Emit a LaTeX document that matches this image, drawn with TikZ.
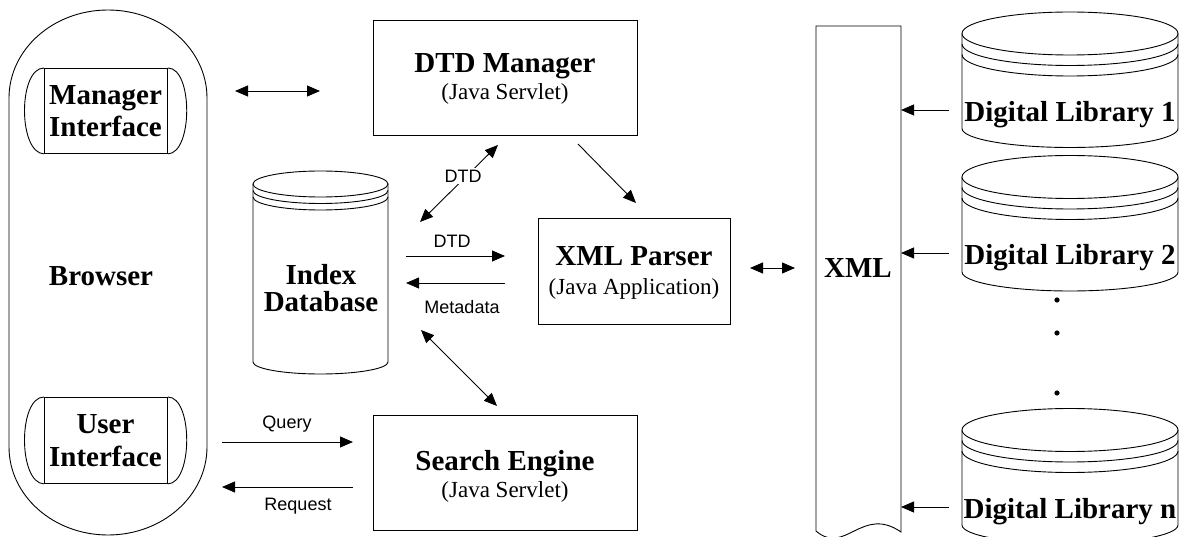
\documentclass[tikz,border=0pt]{standalone}
\usepackage{fontspec}
\setmainfont{Liberation Serif}
\newfontfamily\lsans{Liberation Sans}
\usetikzlibrary{arrows.meta}
\tikzset{
  ln/.style={line width=0.9pt, draw=black},
  tip/.tip={Triangle[length=13pt,width=11pt]},
  arr/.style={ln, -tip},
  darr/.style={ln, tip-tip},
  boxnode/.style={ln, rectangle, anchor=north west, inner sep=0pt},
  big/.style={font=\fontsize{29}{30}\selectfont\bfseries, inner sep=0pt, anchor=base},
  sub/.style={font=\fontsize{23}{25}\selectfont, inner sep=0pt, anchor=base},
  lab/.style={font=\lsans\fontsize{18}{20}\selectfont, inner sep=1.5pt, fill=white},
}
\begin{document}
\begin{tikzpicture}[x=1pt,y=-1pt]
\useasboundingbox (0,0) rectangle (1179,537);

% ---------- Browser ----------
\draw[ln] (9,98) arc[start angle=180, end angle=0, x radius=99pt, y radius=88pt]
  -- (207,447) arc[start angle=360, end angle=180, x radius=99pt, y radius=88pt] -- cycle;
\node[big] (browser) at (101,286) {Browser};

% Manager Interface
\node[boxnode, minimum width=123pt, minimum height=85pt] (mi) at (44,68) {};
\draw[ln] (mi.north west) .. controls (18,68) and (18,153) .. (mi.south west);
\draw[ln] (mi.north east) .. controls (193,68) and (193,153) .. (mi.south east);
\node[big] (miA) at (105.5,104.5) {Manager};
\node[big] (miB) at (105.5,136.5) {Interface};

% User Interface
\node[boxnode, minimum width=123pt, minimum height=86pt] (ui) at (44,397) {};
\draw[ln] (ui.north west) .. controls (18,397) and (18,483) .. (ui.south west);
\draw[ln] (ui.north east) .. controls (193,397) and (193,483) .. (ui.south east);
\node[big] (uiA) at (105.5,434) {User};
\node[big] (uiB) at (105.5,466) {Interface};

% ---------- DTD Manager ----------
\node[boxnode, minimum width=264pt, minimum height=115pt] (dtd) at (373,20) {};
\node[big] (dtdA) at (505,73) {DTD Manager};
\node[sub] (dtdB) at (505,100) {(Java Servlet)};

% ---------- Search Engine ----------
\node[boxnode, minimum width=264pt, minimum height=115pt] (se) at (373,415) {};
\node[big] (seA) at (505,470) {Search Engine};
\node[sub] (seB) at (505,497) {(Java Servlet)};

% ---------- XML Parser ----------
\node[boxnode, minimum width=192pt, minimum height=106pt] (xp) at (538,218) {};
\node[big] (xpA) at (634,266) {XML Parser};
\node[sub] (xpB) at (634,295) {(Java Application)};

% ---------- Index Database ----------
\draw[ln] (253,184) -- (253,362) arc[start angle=180, end angle=360, x radius=67.5pt, y radius=12pt] -- (388,184);
\draw[ln, fill=white] (320.5,184) ellipse[x radius=67.5pt, y radius=13pt];
\draw[ln] (253,190.5) arc[start angle=180, end angle=360, x radius=67.5pt, y radius=13pt];
\draw[ln] (253,197) arc[start angle=180, end angle=360, x radius=67.5pt, y radius=13pt];
\node[big] (idxA) at (321,285) {Index};
\node[big] (idxB) at (321,312) {Database};

% ---------- XML document ----------
\draw[ln] (816,531) -- (816,26) -- (901,26) -- (901,532)
  .. controls (862,505) and (845,556) .. (816,531);
\node[big] (xml) at (858,278) {XML};

% ---------- Digital libraries ----------
\foreach \yc/\nm/\txt in {33.5/dl1/Digital Library 1, 177/dl2/Digital Library 2, 430/dln/Digital Library n}{
  \draw[ln] (962,\yc) -- (962,\yc+95) arc[start angle=180, end angle=360, x radius=108pt, y radius=19pt] -- (1178,\yc);
  \draw[ln, fill=white] (1070,\yc) ellipse[x radius=108pt, y radius=21.5pt];
  \draw[ln] (962,\yc+10.5) arc[start angle=180, end angle=360, x radius=108pt, y radius=21.5pt];
  \draw[ln] (962,\yc+21) arc[start angle=180, end angle=360, x radius=108pt, y radius=21.5pt];
  \node[big] (\nm) at (1070,\yc+88) {\txt};
}
\fill (1057,300) circle[radius=2.6pt];
\fill (1057,333) circle[radius=2.6pt];
\fill (1057,393) circle[radius=2.6pt];

% ---------- connector end points ----------
\coordinate (mL) at (235,91);
\coordinate (mR) at (320,91);
\coordinate (d1) at (498,145);
\coordinate (d2) at (420,222);
\coordinate (h1a) at (406,256);
\coordinate (h1b) at (505,256);
\coordinate (h2a) at (505,283);
\coordinate (h2b) at (406,283);
\coordinate (p1) at (578,144);
\coordinate (p2) at (636,203);
\coordinate (s1) at (421,330);
\coordinate (s2) at (497,406);
\coordinate (qa) at (222,442);
\coordinate (qb) at (353,442);
\coordinate (ra) at (353,487);
\coordinate (rb) at (222,487);
\coordinate (xa) at (750,268);
\coordinate (xb) at (795,268);
\coordinate (l1) at (949,110);
\coordinate (l1x) at (901,110);
\coordinate (l2) at (949,253);
\coordinate (l2x) at (901,253);
\coordinate (lnn) at (949,507);
\coordinate (lnx) at (901,507);

% ---------- connectors ----------
\draw[darr] (mL) -- (mR);
\draw[darr] (d1) -- (d2);
\node[lab] (ldtd1) at (463,176) {DTD};
\draw[arr] (h1a) -- (h1b);
\node[lab, fill=none] (ldtd2) at (452,241.5) {DTD};
\draw[arr] (h2a) -- (h2b);
\node[lab, fill=none] (lmeta) at (462,307) {Metadata};
\draw[arr] (p1) -- (p2);
\draw[darr] (s1) -- (s2);
\draw[arr] (qa) -- (qb);
\node[lab, fill=none] (lq) at (287,424) {Query};
\draw[arr] (ra) -- (rb);
\node[lab, fill=none] (lr) at (298,506) {Request};
\draw[darr] (xa) -- (xb);
\draw[arr] (l1) -- (l1x);
\draw[arr] (l2) -- (l2x);
\draw[arr] (lnn) -- (lnx);
\end{tikzpicture}
\end{document}
